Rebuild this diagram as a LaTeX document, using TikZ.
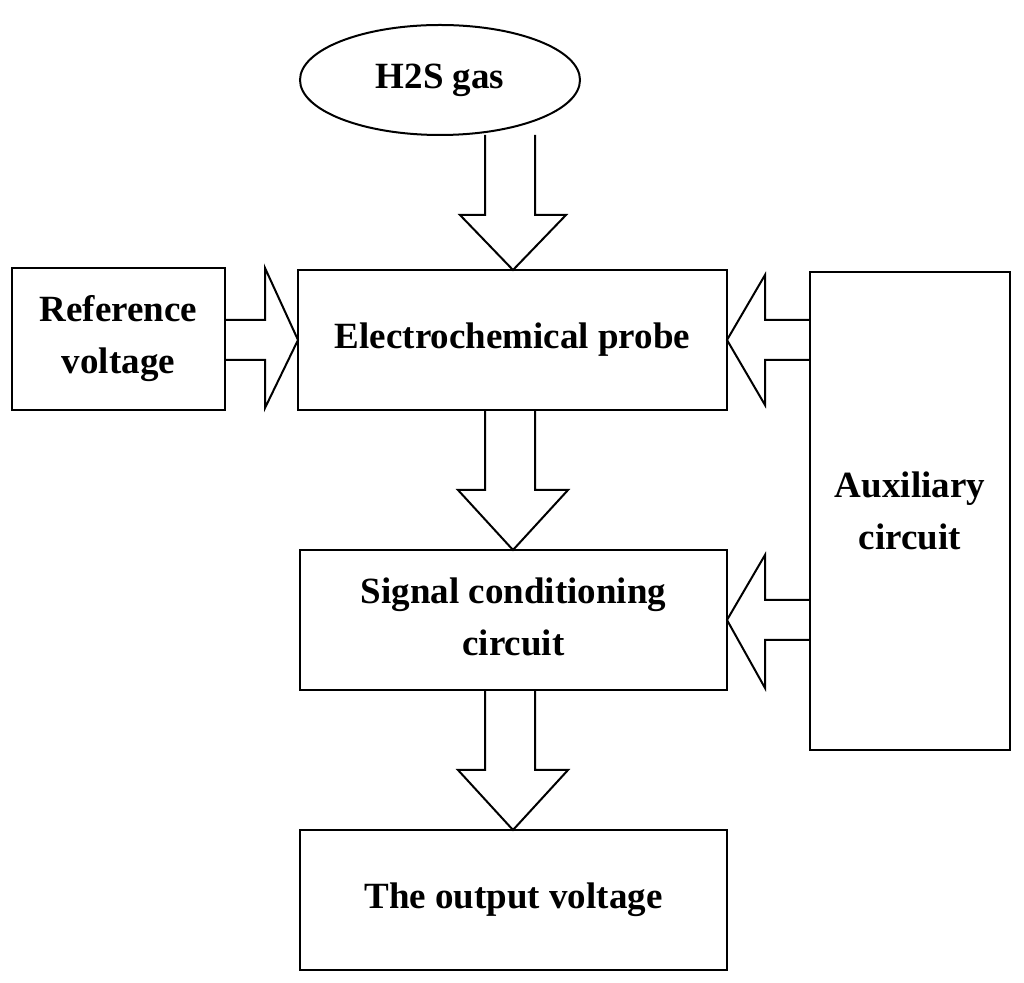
\documentclass[tikz,border=0pt]{standalone}
\usepackage{fontspec}
\setmainfont{Liberation Serif}
\usetikzlibrary{shapes.geometric}
\begin{document}
\begin{tikzpicture}[x=0.5pt,y=-0.5pt,
  box/.style={draw,line width=1pt,inner sep=0pt,align=center,font=\fontsize{18.5}{26}\selectfont\bfseries},
  harrow/.style={draw,line width=1pt,fill=white,line join=miter}]
\useasboundingbox (0,0) rectangle (1024,983);
% down arrows
\draw[harrow] (485,135)--(485,215)--(460,215)--(513,270)--(566,215)--(535,215)--(535,135);
\draw[harrow] (485,410)--(485,490)--(458,490)--(513,550)--(568,490)--(535,490)--(535,410);
\draw[harrow] (485,690)--(485,770)--(458,770)--(513,830)--(568,770)--(535,770)--(535,690);
% right arrow from ref
\draw[harrow] (225,320)--(265,320)--(265,268)--(298,340)--(265,408)--(265,360)--(225,360);
% left arrows from aux
\draw[harrow] (810,320)--(765,320)--(765,275)--(727,340)--(765,405)--(765,360)--(810,360);
\draw[harrow] (810,600)--(765,600)--(765,555)--(727,620)--(765,688)--(765,640)--(810,640);
\node[box,ellipse,minimum width=140pt,minimum height=55pt] (gas) at (440,80) {H2S gas};
\node[box,minimum width=106.5pt,minimum height=71pt] (ref) at (118.5,339) {Reference\\voltage};
\node[box,minimum width=214.5pt,minimum height=70pt] (probe) at (512.5,340) {Electrochemical probe};
\node[box,minimum width=100pt,minimum height=239pt] (aux) at (910,511) {Auxiliary\\circuit};
\node[box,minimum width=213.5pt,minimum height=70pt] (sig) at (513.5,620) {};
\node[align=center,font=\fontsize{18.5}{26}\selectfont\bfseries] (sigt) at (513.5,617) {Signal conditioning\\circuit};
\node[box,minimum width=213.5pt,minimum height=70pt] (out) at (513.5,900) {The output voltage};
\end{tikzpicture}
\end{document}
